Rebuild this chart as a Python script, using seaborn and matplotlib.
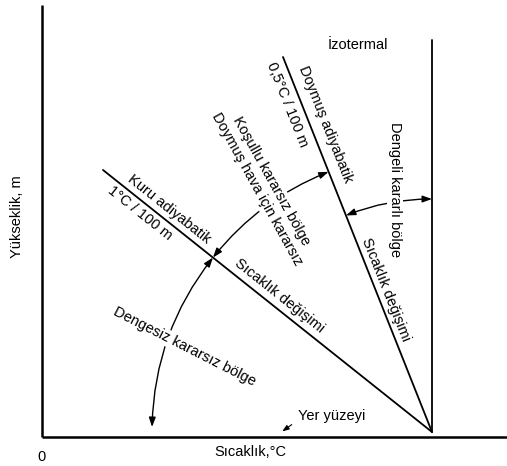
import numpy as np
import pandas as pd
import matplotlib
matplotlib.use("Agg")
import matplotlib.pyplot as plt
from matplotlib.patches import FancyArrowPatch
import seaborn as sns

# Schematic units: temperature grows to the right, height upward.
ground_temp = 390.0
ground_height = 5.0
temp_axis_end = 465.0
height_axis_end = 432.0

profile_names = ["Kuru adiyabatik", "Doymuş adiyabatik", "İzotermal"]
profile_top_temp = [61.0, 241.0, 390.0]
profile_top_height = [267.0, 380.0, 397.0]

# Radii of the stability-zone arcs drawn around the ground point
# (unstable: dry -> ground, conditional: saturated -> dry, stable: isotherm -> saturated)
zone_arc_radius = [280.0, 280.0, 233.0]

sns.set_style("white")
plt.rcParams["font.family"] = ["Liberation Sans", "DejaVu Sans"]

fig = plt.figure(figsize=(5.07, 4.66), dpi=100)
ax = fig.add_axes([0, 0, 1, 1])
ax.set_xlim(-42, 465)
ax.set_ylim(-29, 437)
ax.set_axis_off()

rows = []
for name, tt, th in zip(profile_names, profile_top_temp, profile_top_height):
    rows.append({"profil": name, "sicaklik": ground_temp, "yukseklik": ground_height})
    rows.append({"profil": name, "sicaklik": tt, "yukseklik": th})
profiles = pd.DataFrame(rows)

sns.lineplot(data=profiles, x="sicaklik", y="yukseklik", units="profil",
             estimator=None, sort=False, color="black", linewidth=1.3,
             legend=False, ax=ax)

# temperature and height axes
ax.plot([0, temp_axis_end], [0, 0], color="black", lw=1.8, solid_capstyle="butt")
ax.plot([0, 0], [0, height_axis_end], color="black", lw=1.8, solid_capstyle="butt")


def point_on(direction_deg, r):
    a = np.deg2rad(direction_deg)
    return ground_temp + r * np.cos(a), ground_height + r * np.sin(a)


def direction(tt, th):
    return np.degrees(np.arctan2(th - ground_height, tt - ground_temp))


dry_dir = direction(profile_top_temp[0], profile_top_height[0])
sat_dir = direction(profile_top_temp[1], profile_top_height[1])
iso_dir = direction(profile_top_temp[2], profile_top_height[2])

arc_spans = [
    (dry_dir, 180.0 - np.degrees(np.arcsin(ground_height / zone_arc_radius[0]))),
    (sat_dir, dry_dir),
    (iso_dir, sat_dir),
]
for (a0, a1), r in zip(arc_spans, zone_arc_radius):
    p0 = point_on(a0, r)
    p1 = point_on(a1, r)
    rad = np.tan(np.deg2rad(a1 - a0) / 4.0)
    arr = FancyArrowPatch(p0, p1, connectionstyle=f"arc3,rad={rad:.4f}",
                          arrowstyle="<|-|>,head_length=0.7,head_width=0.25",
                          mutation_scale=8, color="black", lw=1.0,
                          shrinkA=0, shrinkB=0, zorder=2)
    ax.add_patch(arr)

fs = 10.5
txt = dict(color="black", ha="center", va="center", fontsize=fs, zorder=4)
white = dict(boxstyle="square,pad=0.1", fc="white", ec="none")

ax.text(316, 392, "İzotermal", **txt)
ax.text(283, 313, "Doymuş adiyabatik", rotation=sat_dir - 180, **txt)
ax.text(245, 332, "0,5°C / 100 m", rotation=sat_dir - 180, **txt)
ax.text(344, 147, "Sıcaklık değişimi", rotation=sat_dir - 180, **txt)
ax.text(353, 247, "Dengeli kararlı bölge", rotation=-90, bbox=white, **txt)
ax.text(127, 228, "Kuru adiyabatik", rotation=dry_dir - 180, **txt)
ax.text(98, 224, "1°C / 100 m", rotation=dry_dir - 180, **txt)
ax.text(237, 141, "Sıcaklık değişimi", rotation=dry_dir - 180, **txt)
ax.text(222, 252, "Koşullu kararsız bölge\nDoymuş hava için kararsız",
        rotation=-61, bbox=white, linespacing=1.25, **txt)
ax.text(143, 90, "Dengesiz kararsız bölge", rotation=-27, bbox=white, **txt)
ax.text(290, 21, "Yer yüzeyi", **txt)
ax.annotate("", xy=(238, ground_height - 1), xytext=(252, 14),
            arrowprops=dict(arrowstyle="-|>,head_length=0.4,head_width=0.15",
                            color="black", lw=0.8))
ax.text(208, -15, "Sıcaklık,°C", **txt)
ax.text(-1, -20, "0", **txt)
ax.text(-25, 220, "Yükseklik, m", rotation=90, **txt)

fig.savefig("out.png", dpi=100, facecolor="white")
